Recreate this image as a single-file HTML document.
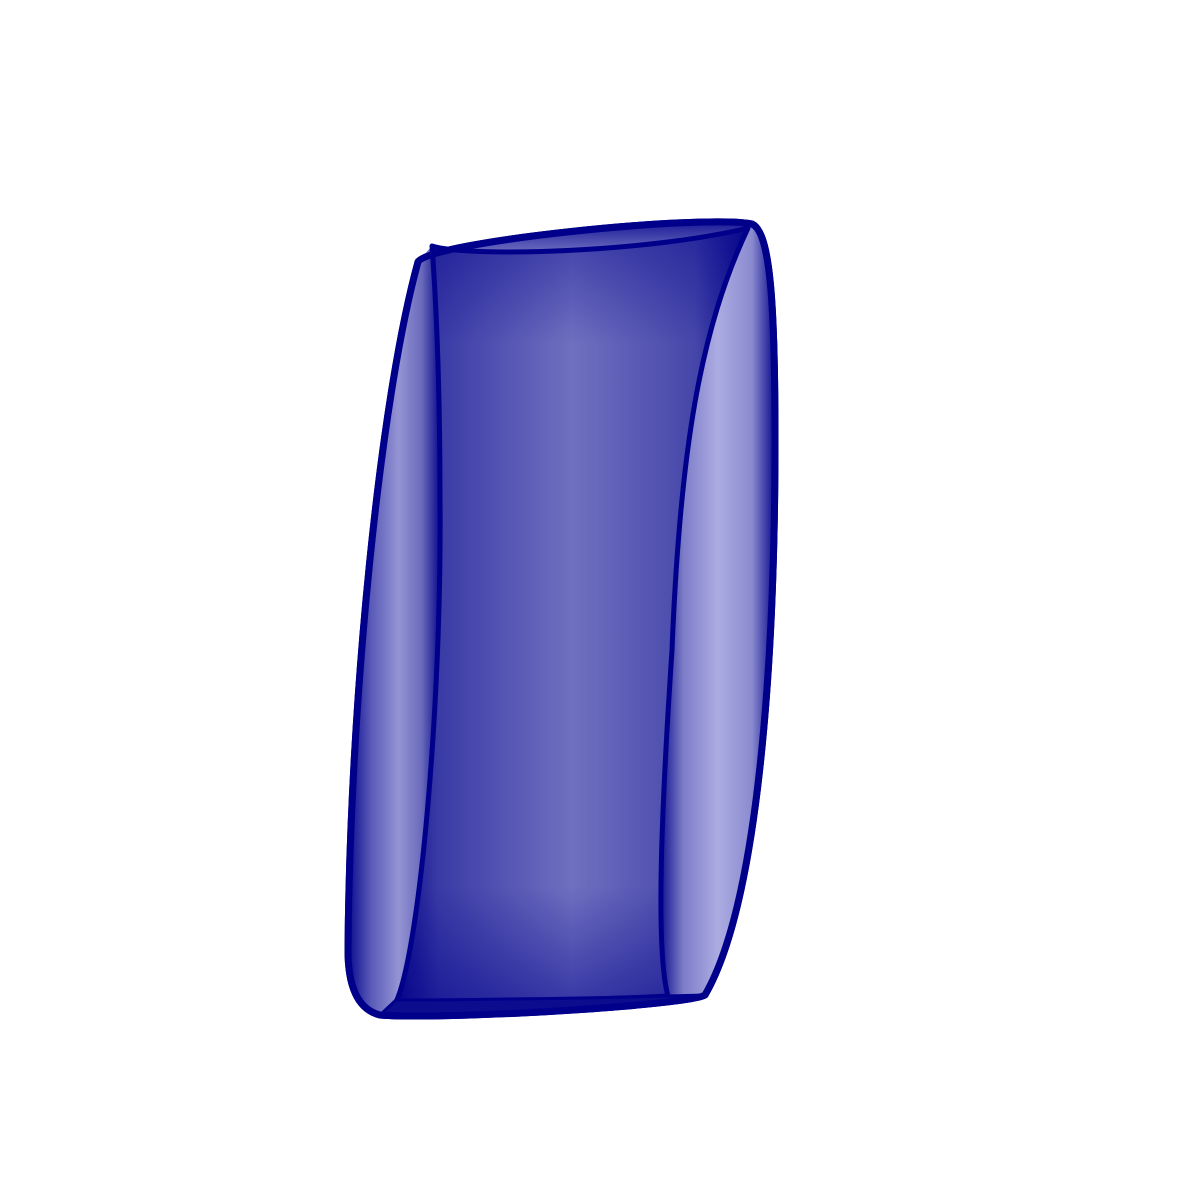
<!DOCTYPE html>
<html><head><meta charset="utf-8"><style>html,body{margin:0;padding:0;background:#fff;width:1199px;height:1199px;overflow:hidden}</style></head>
<body>
<svg id="chart" width="1199" height="1199" viewBox="0 0 1199 1199" xmlns="http://www.w3.org/2000/svg">
<defs>
<linearGradient id="gl" x1="0" x2="1" y1="0" y2="0">
<stop offset="0" stop-color="#0a0a8e"/><stop offset="0.25" stop-color="#5a5ab8"/><stop offset="0.55" stop-color="#9494d4"/><stop offset="0.8" stop-color="#6a6abc"/><stop offset="1" stop-color="#0a0a8c"/></linearGradient>
<linearGradient id="gr" x1="0" x2="1" y1="0" y2="0">
<stop offset="0" stop-color="#10108f"/><stop offset="0.2" stop-color="#7c7cc8"/><stop offset="0.5" stop-color="#acacE2"/><stop offset="0.8" stop-color="#8a8ad0"/><stop offset="1" stop-color="#0a0a8c"/></linearGradient>
<linearGradient id="gc" x1="0" x2="1" y1="0" y2="0">
<stop offset="0" stop-color="#0a0a8c"/><stop offset="0.12" stop-color="#3a3aa6"/><stop offset="0.5" stop-color="#7070c0"/><stop offset="0.85" stop-color="#4646aa"/><stop offset="1" stop-color="#0a0a8c"/></linearGradient>
<linearGradient id="gcv" x1="0" x2="0" y1="0" y2="1">
<stop offset="0" stop-color="#00008b" stop-opacity="0.45"/><stop offset="0.15" stop-color="#00008b" stop-opacity="0"/><stop offset="0.85" stop-color="#00008b" stop-opacity="0"/><stop offset="1" stop-color="#00008b" stop-opacity="0.5"/></linearGradient>
<linearGradient id="gt" x1="0" x2="0" y1="0" y2="1">
<stop offset="0" stop-color="#1a1a98"/><stop offset="1" stop-color="#8888cc"/></linearGradient>
</defs>
<g id="marks"></g>
</svg>
<script>
// outline control points of the projected surface (pixel-space shape description)
const outerPath = "M418,262 C428,242 700,214 752,224 C770,232 775,300 775,440 C775,650 760,900 705,995 C690,1005 450,1020 380,1015 C360,1010 348,990 348,950 C350,700 380,400 418,262 Z";
const leftPanel = "M418,262 C380,400 350,700 348,950 C348,990 360,1010 380,1015 L396,1002 C420,950 442,700 440,500 C440,380 436,300 432,246 Z";
const rightPanel = "M752,224 C770,232 775,300 775,440 C775,650 760,900 705,995 L668,996 C655,950 660,800 670,650 C680,450 700,330 748,228 Z";
const centerPanel = "M432,246 C470,258 650,252 748,228 C700,330 680,450 672,650 C662,800 655,950 668,996 C600,1000 450,1002 396,1002 C420,950 442,700 440,500 C440,380 436,300 432,246 Z";
const topFace = "M418,262 C428,242 700,214 752,224 L748,228 C650,252 470,258 432,246 Z";
const bottomFace = "M380,1015 C450,1020 690,1005 705,995 L668,996 C600,998 450,1000 396,1000 Z";
const g = document.getElementById('marks');
const NS = "http://www.w3.org/2000/svg";
function addPath(d, fill, name, stroke, sw){
  const p = document.createElementNS(NS,'path');
  p.setAttribute('d', d);
  p.setAttribute('fill', fill);
  if(stroke){p.setAttribute('stroke', stroke);p.setAttribute('stroke-width', sw);p.setAttribute('stroke-linejoin','round');}
  
  
  g.appendChild(p);
}
addPath(outerPath, "#00008b", "surface-outline", "#00008b", 7);
addPath(leftPanel, "url(#gl)", "left-side-panel");
addPath(rightPanel, "url(#gr)", "right-side-panel");
addPath(topFace, "url(#gt)", "top-rim");
addPath(centerPanel, "url(#gc)", "center-panel", "#00008b", 5);
addPath(centerPanel, "url(#gcv)", "center-shading");
addPath(bottomFace, "#0c0c8e", "bottom-rim", "#00008b", 3);
addPath(outerPath, "none", "outer-edge", "#00008b", 7);
</script>
</body></html>
